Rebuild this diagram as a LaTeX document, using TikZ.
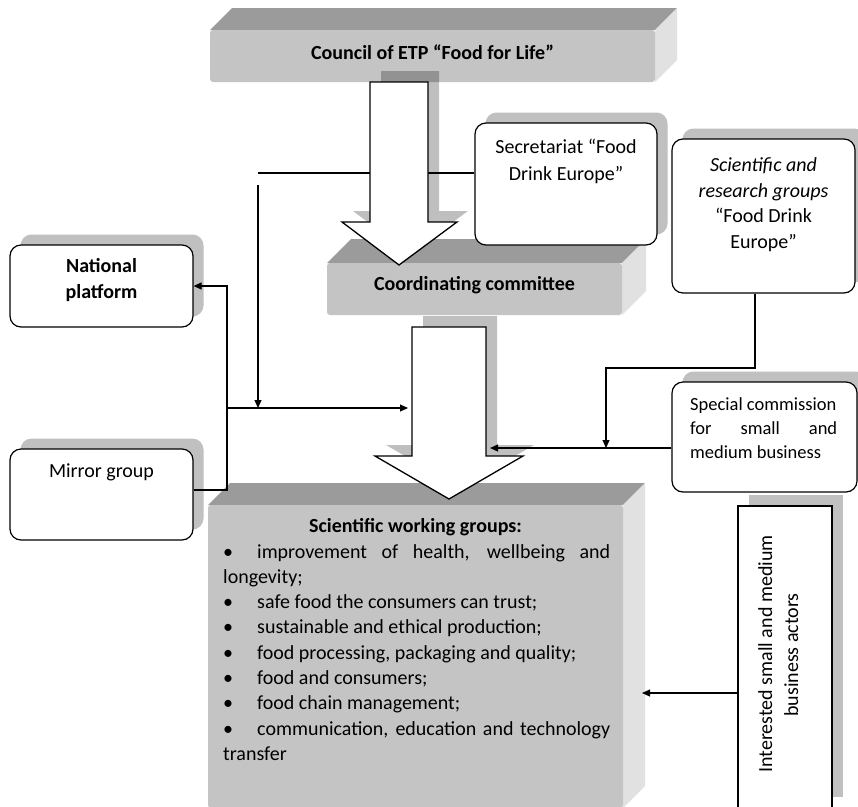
\documentclass[tikz,border=0pt]{standalone}
\usepackage{fontspec}
\setmainfont{Carlito}
\usetikzlibrary{arrows.meta,shadows}
\definecolor{frontgray}{HTML}{C4C4C4}
\definecolor{topgray}{HTML}{9B9B9B}
\definecolor{sidegray}{HTML}{E1E1E1}
\definecolor{shadowgray}{HTML}{C0C0C0}
\newcommand\fmain{\fontsize{20}{25}\selectfont}
\newcommand\fsmall{\fontsize{18.5}{24}\selectfont}
\tikzset{
  rbox/.style={draw=black, line width=1.2pt, fill=white, rounded corners=11pt, inner sep=0pt,
    drop shadow={shadow xshift=10.5pt, shadow yshift=10.5pt, fill=shadowgray, opacity=1}},
  sbox/.style={draw=black, line width=1.2pt, fill=white, inner sep=0pt,
    drop shadow={shadow xshift=11pt, shadow yshift=11pt, fill=shadowgray, opacity=1}},
  frontface/.style={fill=frontgray, rounded corners=3pt, inner sep=0pt},
  topface/.style={fill=topgray},
  sideface/.style={fill=sidegray},
  txt/.style={inner sep=0pt, font=\fmain, anchor=base},
  bigarrow/.style={draw=black, line width=1.3pt, fill=white, line join=miter},
  arrshadow/.style={fill=black, opacity=0.25},
  conn/.style={draw=black, line width=1.1pt},
  arr/.style={conn, -{Triangle[length=8pt,width=7pt]}},
}
\begin{document}
\begin{tikzpicture}[x=1pt,y=-1pt]
\useasboundingbox (0,0) rectangle (858,806);
\fill[white] (0,0) rectangle (858,806);
\clip (0,0) rectangle (858,806);

% ---- Council (3D) ----
\fill[topface] (210,30) -- (232,8) -- (677,8) -- (655,30) -- cycle;
\fill[sideface] (655,30) -- (677,8) -- (677,60) -- (655,82) -- cycle;
\node[frontface, minimum width=445pt, minimum height=52pt] (council) at (432.5,56) {};

% ---- Coordinating committee (3D) ----
\fill[topface] (327,263) -- (351,239) -- (646,239) -- (622,263) -- cycle;
\fill[sideface] (622,263) -- (646,239) -- (646,291) -- (622,315) -- cycle;
\node[frontface, minimum width=295pt, minimum height=52pt] (coord) at (474.5,289) {};

% ---- Scientific working groups (3D) ----
\fill[topface] (208,505) -- (230,483) -- (645,483) -- (623,505) -- cycle;
\fill[sideface] (623,505) -- (645,483) -- (645,786) -- (623,808) -- cycle;
\node[frontface, minimum width=415pt, minimum height=303pt] (main) at (415.5,656.5) {};

% ---- rounded boxes ----
\node[rbox, minimum width=182pt, minimum height=122pt] (sec) at (566,184) {};
\node[rbox, minimum width=183pt, minimum height=154pt] (sci) at (763.5,216) {};
\node[rbox, minimum width=183pt, minimum height=82pt] (nat) at (101.5,286) {};
\node[rbox, minimum width=183pt, minimum height=91pt] (mir) at (101.5,494.5) {};
\node[rbox, minimum width=185pt, minimum height=110pt] (spc) at (764.5,437) {};
\node[sbox, minimum width=94pt, minimum height=302pt] (act) at (785,657) {};

% ---- secretariat line (passes under big arrow) ----
\coordinate (secL) at (258,173);
\draw[conn] ([yshift=11pt]sec.west) -- (secL);

% ---- big hollow arrows ----
\fill[arrshadow, shift={(11,-11)}] (370,82) -- (428,82) -- (428,222) -- (457,222) -- (399,265) -- (342,222) -- (370,222) -- cycle;
\draw[bigarrow] (370,82) -- (428,82) -- (428,222) -- (457,222) -- (399,265) -- (342,222) -- (370,222) -- cycle;
\fill[arrshadow, shift={(11,-11)}] (412,327) -- (486,327) -- (486,456) -- (523,456) -- (449,499) -- (375,456) -- (412,456) -- cycle;
\draw[bigarrow] (412,327) -- (486,327) -- (486,456) -- (523,456) -- (449,499) -- (375,456) -- (412,456) -- cycle;

% ---- connectors ----
\coordinate (vtop) at (258,185);
\coordinate (vbot) at (258,408);
\draw[arr] (vtop) -- (vbot);
\coordinate (jm) at (227,490);
\coordinate (jb) at (227,408);
\coordinate (a2L) at (408,408);
\draw[arr] ([yshift=4.5pt]mir.east) -- (jm) -- (jm |- nat.east) -- (nat.east);
\draw[arr] (jb) -- (a2L);
\coordinate (s1) at (755,368);
\coordinate (s2) at (606,368);
\coordinate (s3) at (606,448);
\draw[arr] ([xshift=-8.5pt]sci.south) -- (s1) -- (s2) -- (s3);
\coordinate (a2R) at (490,448);
\draw[arr] ([yshift=-11pt]spc.west) -- (a2R);
\coordinate (mainR) at (642,693);
\draw[arr] ([yshift=-36pt]act.west) -- (mainR);

% ---- texts ----
\node[txt, font=\fmain\bfseries] (counciltxt) at (432.5,59) {Council of ETP “Food for Life”};
\node[txt, font=\fmain\bfseries] (coordtxt) at (474.5,290) {Coordinating committee};

\node[txt] (sec1) at (566,153) {Secretariat “Food};
\node[txt] (sec2) at (566,180) {Drink Europe”};

\node[txt, font=\fmain\itshape] (sci1) at (763.5,171) {Scientific and};
\node[txt, font=\fmain\itshape] (sci2) at (763.5,197) {research groups};
\node[txt] (sci3) at (763.5,222.5) {“Food Drink};
\node[txt] (sci4) at (763.5,248) {Europe”};

\node[txt, font=\fmain\bfseries] (nat1) at (101.5,272) {National};
\node[txt, font=\fmain\bfseries] (nat2) at (101.5,298) {platform};

\node[txt] (mir1) at (101.5,477) {Mirror group};

\node[txt, font=\fsmall, anchor=base west] (spc1) at (690,410) {Special commission};
\node[txt, font=\fsmall, anchor=base west] (spc2) at (690,434) {\makebox[147pt][s]{for small and}};
\node[txt, font=\fsmall, anchor=base west] (spc3) at (690,458) {medium business};

\node[txt, rotate=90] (act1) at (772,654) {Interested small and medium};
\node[txt, rotate=90] (act2) at (798,655) {business actors};

\node[txt, font=\fmain\bfseries] (mainhead) at (415.5,532) {Scientific working groups:};
\node[txt, anchor=base west] (l1) at (223,558) {\makebox[387pt][s]{\makebox[34pt][l]{•}improvement of health, wellbeing and}};
\node[txt, anchor=base west] (l2) at (223,583.3) {longevity;};
\node[txt, anchor=base west] (l3) at (223,608.6) {\makebox[34pt][l]{•}safe food the consumers can trust;};
\node[txt, anchor=base west] (l4) at (223,633.9) {\makebox[34pt][l]{•}sustainable and ethical production;};
\node[txt, anchor=base west] (l5) at (223,659.2) {\makebox[34pt][l]{•}food processing, packaging and quality;};
\node[txt, anchor=base west] (l6) at (223,684.5) {\makebox[34pt][l]{•}food and consumers;};
\node[txt, anchor=base west] (l7) at (223,709.8) {\makebox[34pt][l]{•}food chain management;};
\node[txt, anchor=base west] (l8) at (223,735.1) {\makebox[387pt][s]{\makebox[34pt][l]{•}communication, education and technology}};
\node[txt, anchor=base west] (l9) at (223,760.4) {transfer};
\end{tikzpicture}
\end{document}
